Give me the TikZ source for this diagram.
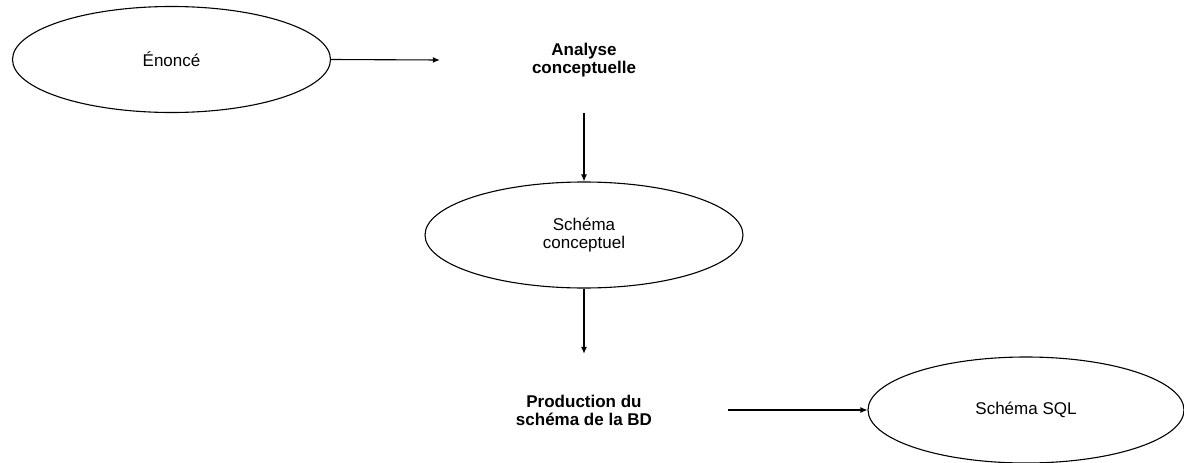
\documentclass[tikz,border=0pt]{standalone}
\usepackage{fontspec}
\setmainfont{Liberation Sans}
\usetikzlibrary{shapes.geometric,arrows.meta}
\begin{document}
\begin{tikzpicture}[x=1pt,y=-1pt,
  every node/.style={font=\fontsize{17}{17.5}\selectfont, align=center},
  oval/.style={draw, ellipse, line width=1.1pt, minimum width=318pt, minimum height=106pt, inner sep=0pt},
  label box/.style={rectangle, inner sep=0pt, font=\fontsize{17}{18}\selectfont\bfseries},
  conn/.style={line width=1.1pt, -{Latex[length=7pt,width=6pt]}}
]
\useasboundingbox (0,0) rectangle (1184,463);
\node[oval] (enonce) at (171.5,59.5) {Énoncé};
\node[label box, minimum width=288pt, minimum height=106pt] (analyse) at (584,60) {Analyse\\conceptuelle};
\node[oval] (schema) at (584,235) {Schéma\\conceptuel};
\node[label box, minimum width=288pt, minimum height=112pt] (prod) at (584,410) {Production du\\schéma de la BD};
\node[oval, minimum width=316pt] (sql) at (1026,410) {Schéma SQL};
\draw[conn] (enonce.east) -- (analyse.west);
\draw[conn] (analyse.south) -- (schema.north);
\draw[conn] (schema.south) -- (prod.north);
\draw[conn] (prod.east) -- (sql.west);
\end{tikzpicture}
\end{document}
